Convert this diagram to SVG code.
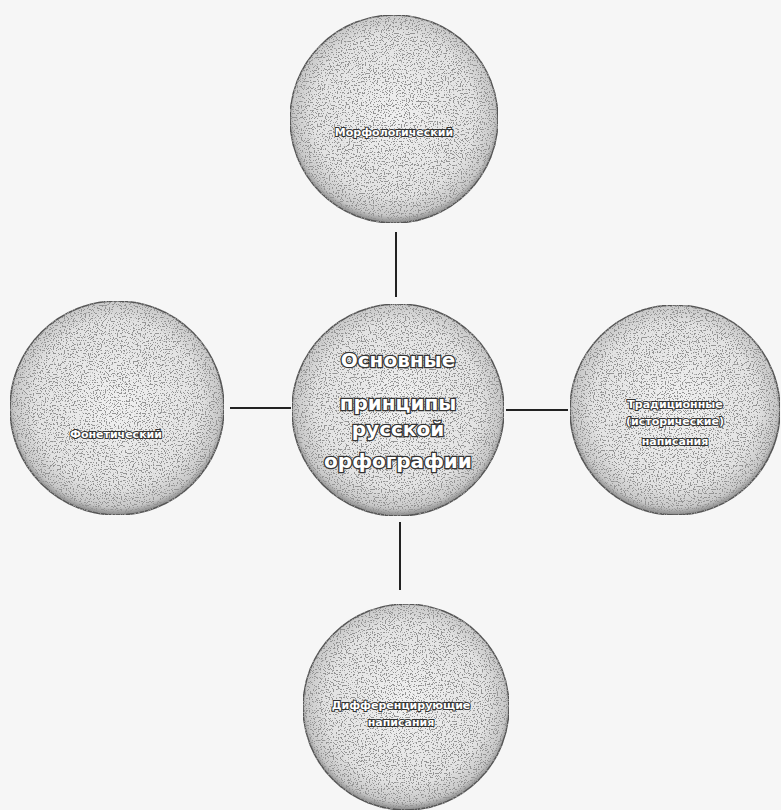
<svg xmlns="http://www.w3.org/2000/svg" width="781" height="810" viewBox="0 0 781 810">
<defs>
<radialGradient id="g" cx="50%" cy="48%" r="52%">
<stop offset="0" stop-color="#f0f0f0"/>
<stop offset="0.75" stop-color="#e2e2e2"/>
<stop offset="0.93" stop-color="#c8c8c8"/>
<stop offset="1" stop-color="#8a8a8a"/>
</radialGradient>
<filter id="speck" x="0" y="0" width="100%" height="100%">
<feTurbulence type="fractalNoise" baseFrequency="0.75" numOctaves="1" seed="5" result="n"/>
<feColorMatrix in="n" type="matrix" values="0 0 0 0 0.3  0 0 0 0 0.3  0 0 0 0 0.3  22 0 0 0 -12.5" result="d"/>
<feComposite in="d" in2="SourceGraphic" operator="in" result="dd"/>
<feMerge><feMergeNode in="SourceGraphic"/><feMergeNode in="dd"/></feMerge>
</filter>
</defs>
<style>
.c{fill:url(#g);stroke:#555;stroke-width:1.5;filter:url(#speck)}
.t{font-family:"DejaVu Sans","Noto Sans",sans-serif;font-weight:bold;fill:#ffffff;stroke:#333;paint-order:stroke;text-anchor:middle}
.big{font-size:20px;stroke-width:2.6}
.sm{font-size:11px;stroke-width:2}
.ln{stroke:#222;stroke-width:2;fill:none}
</style>
<rect width="781" height="810" fill="#f6f6f6"/>
<g id="connectors">
<line class="ln" x1="396" y1="232" x2="396" y2="297"/>
<line class="ln" x1="230" y1="408" x2="291" y2="408"/>
<line class="ln" x1="506" y1="410" x2="568" y2="410"/>
<line class="ln" x1="400" y1="522" x2="400" y2="590"/>
</g>
<g id="top">
<circle class="c" cx="394" cy="119" r="104"/>
<text class="t sm" x="394" y="136">Морфологический</text>
</g>
<g id="center">
<circle class="c" cx="398" cy="410" r="106"/>
<text class="t big" x="398" y="367">Основные</text>
<text class="t big" x="398" y="410">принципы</text>
<text class="t big" x="398" y="436">русской</text>
<text class="t big" x="398" y="468">орфографии</text>
</g>
<g id="left">
<circle class="c" cx="117" cy="408" r="107"/>
<text class="t sm" x="116" y="438">Фонетический</text>
</g>
<g id="right">
<circle class="c" cx="675" cy="410" r="105"/>
<text class="t sm" x="675" y="408">Традиционные</text>
<text class="t sm" x="675" y="425">(исторические)</text>
<text class="t sm" x="675" y="445">написания</text>
</g>
<g id="bottom">
<circle class="c" cx="406" cy="707" r="103"/>
<text class="t sm" x="401" y="709">Дифференцирующие</text>
<text class="t sm" x="401" y="726">написания</text>
</g>
</svg>
